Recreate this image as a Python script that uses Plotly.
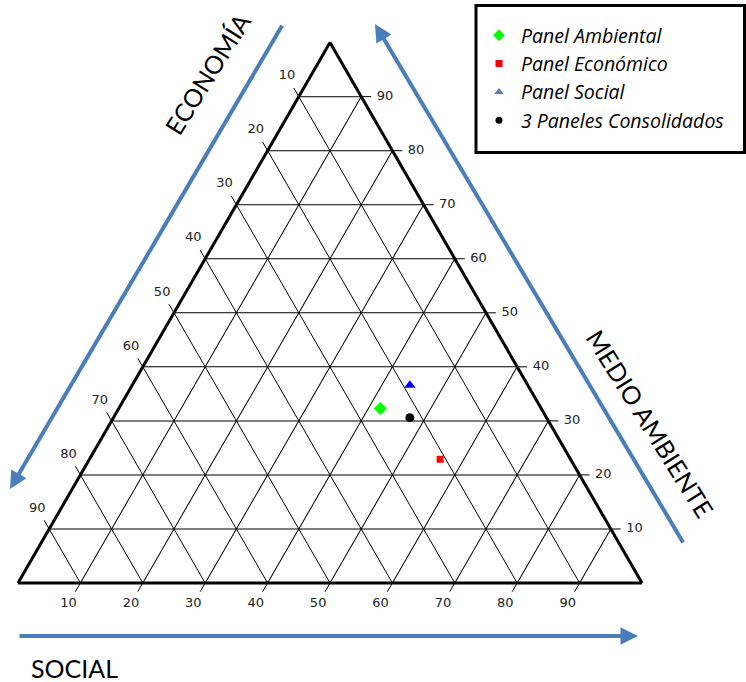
import math
import plotly.graph_objects as go

# Ternary composition of each panel (percent)
series_names = ["Panel Ambiental", "Panel Económico", "Panel Social", "3 Paneles Consolidados"]
medio_ambiente = [32.3, 22.9, 36.6, 30.6]
economia = [25.8, 20.9, 18.9, 21.9]
social = [41.9, 56.2, 44.5, 47.5]

marker_symbols = ["diamond", "square", "triangle-up", "circle"]
marker_colors = ["#00FF00", "#FF0000", "#0000FF", "#000000"]
legend_colors = ["#00FF00", "#FF0000", "#4F81BD", "#000000"]
marker_sizes = [10, 7, 10, 9]
legend_sizes = [9, 7, 8, 7]

grid_values = [10, 20, 30, 40, 50, 60, 70, 80, 90]
tick_labels = [str(v) for v in grid_values]

# Page and triangle geometry (pixels)
W, H = 746, 682
TRI_LEFT, TRI_BOTTOM, TRI_WIDTH = 18.0, 583.0, 624.0
SQ = math.sqrt(3) / 2
TRI_TOP = TRI_BOTTOM - TRI_WIDTH * SQ
UNIT = TRI_WIDTH / 100.0          # pixels per ternary unit

TICK_LEN = 1.6    # tick length, in ternary units along the grid line
LABEL_POS = 3.8   # label distance from the edge, in ternary units


def px(x):
    return x / W


def py(y):
    return 1 - y / H


def to_xy(a, b, c):
    """Ternary (a top, b bottom-left, c bottom-right) -> overlay x/y units."""
    return c + a / 2.0, a * SQ


fig = go.Figure()

# Tick marks and labels continue each grid line past its edge of the
# triangle; they live on a hidden cartesian overlay sharing the scale.
tick_x, tick_y = [], []
lab_x, lab_y, lab_t = [], [], []


def add_tick(edge, step, text):
    a0, b0, c0 = edge
    da, db, dc = step
    x0, y0 = to_xy(a0, b0, c0)
    x1, y1 = to_xy(a0 + da * TICK_LEN, b0 + db * TICK_LEN, c0 + dc * TICK_LEN)
    xl, yl = to_xy(a0 + da * LABEL_POS, b0 + db * LABEL_POS, c0 + dc * LABEL_POS)
    tick_x.extend([x0, x1, None])
    tick_y.extend([y0, y1, None])
    lab_x.append(xl)
    lab_y.append(yl)
    lab_t.append(text)


for v, t in zip(grid_values, tick_labels):
    add_tick((100 - v, v, 0), (1, 0, -1), t)     # Economía, left edge
    add_tick((0, 100 - v, v), (-1, 1, 0), t)     # Social, bottom edge
    add_tick((v, 0, 100 - v), (0, -1, 1), t)     # Medio ambiente, right edge

fig.add_trace(go.Scatter(
    x=tick_x, y=tick_y, mode="lines", showlegend=False, hoverinfo="skip",
    line=dict(color="#000000", width=1), xaxis="x", yaxis="y",
))
fig.add_trace(go.Scatter(
    x=lab_x, y=lab_y, mode="text", text=lab_t, showlegend=False,
    textposition="middle center", hoverinfo="skip", xaxis="x", yaxis="y",
    textfont=dict(family="DejaVu Sans", size=13, color="#222222"),
))

for i, name in enumerate(series_names):
    fig.add_trace(go.Scatterternary(
        a=[medio_ambiente[i]], b=[economia[i]], c=[social[i]],
        mode="markers", name=name, showlegend=False,
        marker=dict(symbol=marker_symbols[i], color=marker_colors[i],
                    size=marker_sizes[i], line=dict(width=0)),
    ))
    # legend entry
    fig.add_trace(go.Scatterternary(
        a=[None], b=[None], c=[None], mode="markers", name=name,
        marker=dict(symbol=marker_symbols[i], color=legend_colors[i],
                    size=legend_sizes[i], line=dict(width=0)),
    ))

axis_common = dict(
    min=0, tickmode="array", tickvals=grid_values,
    ticks="", showticklabels=False,
    showline=True, linecolor="#000000", linewidth=3,
    showgrid=True, gridcolor="#000000", gridwidth=1,
    title=dict(text=""),
)

fig.update_layout(
    width=W, height=H,
    margin=dict(l=0, r=0, t=0, b=0),
    paper_bgcolor="white",
    plot_bgcolor="rgba(0,0,0,0)",
    xaxis=dict(domain=[0, 1], range=[-TRI_LEFT / UNIT, (W - TRI_LEFT) / UNIT],
               visible=False, fixedrange=True),
    yaxis=dict(domain=[0, 1], range=[-(H - TRI_BOTTOM) / UNIT, TRI_BOTTOM / UNIT],
               visible=False, fixedrange=True),
    ternary=dict(
        sum=100,
        bgcolor="white",
        domain=dict(x=[px(TRI_LEFT), px(TRI_LEFT + TRI_WIDTH)],
                    y=[py(TRI_BOTTOM), py(TRI_TOP)]),
        aaxis=axis_common,
        baxis=axis_common,
        caxis=axis_common,
    ),
    showlegend=True,
    legend=dict(
        x=px(477), y=py(16), xanchor="left", yanchor="top",
        bgcolor="rgba(0,0,0,0)", borderwidth=0,
        font=dict(family="Open Sans", size=19.5, color="#000000", style="italic"),
        itemwidth=34,
    ),
    shapes=[
        dict(type="rect", xref="paper", yref="paper",
             x0=px(476), x1=px(744.5), y0=py(152.5), y1=py(5.5),
             line=dict(color="#000000", width=3)),
    ],
)

arrow_color = "#4A7EBB"
arrows = [
    # (tail_x, tail_y, tip_x, tip_y)
    (283, 24, 10, 489),
    (684, 544, 375, 24),
    (18, 636, 638, 636),
]
for tx, ty, hx, hy in arrows:
    fig.add_annotation(
        x=px(hx), y=py(hy), xref="paper", yref="paper",
        ax=tx - hx, ay=ty - hy, axref="pixel", ayref="pixel",
        text="", showarrow=True, arrowhead=2, arrowsize=0.875,
        arrowwidth=4, arrowcolor=arrow_color, standoff=0,
    )

title_font = dict(family="Lato", size=25, color="#000000")
fig.add_annotation(x=px(207), y=py(74), xref="paper", yref="paper",
                   xanchor="center", yanchor="middle",
                   text="ECONOMÍA", showarrow=False, textangle=-58,
                   font=title_font)
fig.add_annotation(x=px(650), y=py(423), xref="paper", yref="paper",
                   xanchor="center", yanchor="middle",
                   text="MEDIO AMBIENTE", showarrow=False, textangle=58,
                   font=title_font)
fig.add_annotation(x=px(29), y=py(668), xref="paper", yref="paper",
                   xanchor="left", yanchor="middle", text="SOCIAL",
                   showarrow=False, font=title_font)

fig.write_html("out.html")
